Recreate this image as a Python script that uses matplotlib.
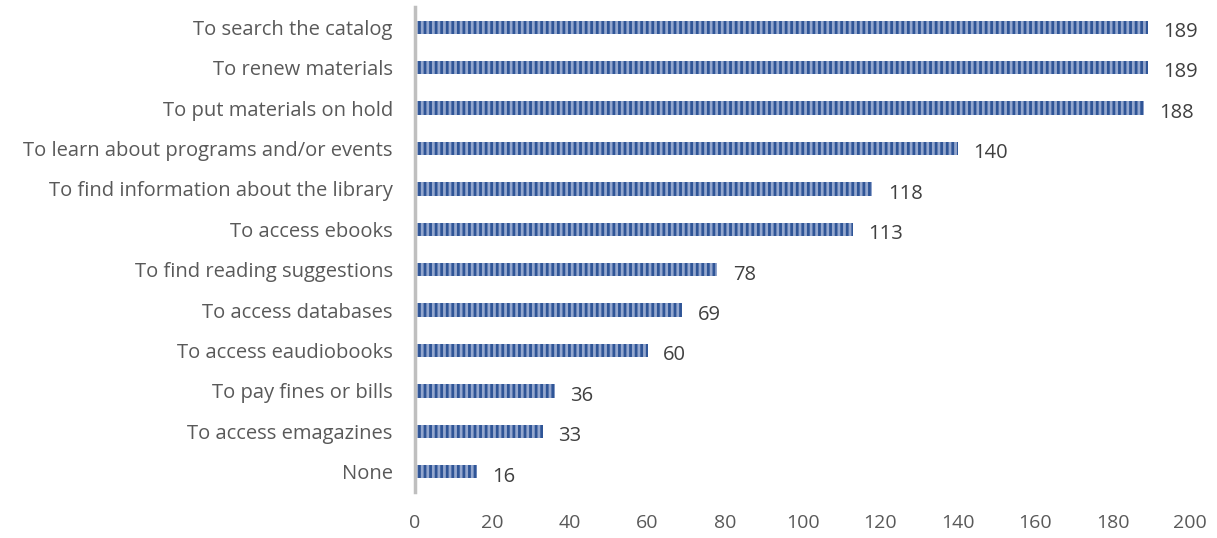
import matplotlib
matplotlib.use("Agg")
import matplotlib.pyplot as plt

plt.rcParams['font.family'] = ['Open Sans', 'DejaVu Sans']
plt.rcParams['hatch.linewidth'] = 2.0
plt.rcParams['hatch.color'] = '#2F5597'

categories = [
    "To search the catalog",
    "To renew materials",
    "To put materials on hold",
    "To learn about programs and/or events",
    "To find information about the library",
    "To access ebooks",
    "To find reading suggestions",
    "To access databases",
    "To access eaudiobooks",
    "To pay fines or bills",
    "To access emagazines",
    "None",
]
counts = [189, 189, 188, 140, 118, 113, 78, 69, 60, 36, 33, 16]
xticks = [0, 20, 40, 60, 80, 100, 120, 140, 160, 180, 200]

fig = plt.figure(figsize=(12.17, 5.38), dpi=100)
ax = fig.add_axes([0.341, 0.0855, 0.637, 0.9015])

ypos = list(range(len(categories)))
ax.barh(ypos, counts, height=0.33, color='#94A7CE',
        edgecolor='#2F5597', hatch='|||', linewidth=0)

for y, v in zip(ypos, counts):
    ax.text(v + 4, y + 0.12, str(v), va='center', ha='left',
            fontsize=14.5, color='#404040')

ax.set_ylim(len(categories) - 0.5, -0.5)
ax.set_xlim(0, 200)
ax.set_yticks(ypos)
ax.set_yticklabels(categories, fontsize=14.5, color='#595959')
ax.set_xticks(xticks)
ax.set_xticklabels([str(t) for t in xticks], fontsize=14, color='#595959')
ax.tick_params(axis='both', length=0)
ax.tick_params(axis='x', pad=16)
ax.tick_params(axis='y', pad=16)

for s in ['top', 'right', 'bottom']:
    ax.spines[s].set_visible(False)
ax.spines['left'].set_color('#BFBFBF')
ax.spines['left'].set_linewidth(2.5)

fig.savefig('out.png', dpi=100)
